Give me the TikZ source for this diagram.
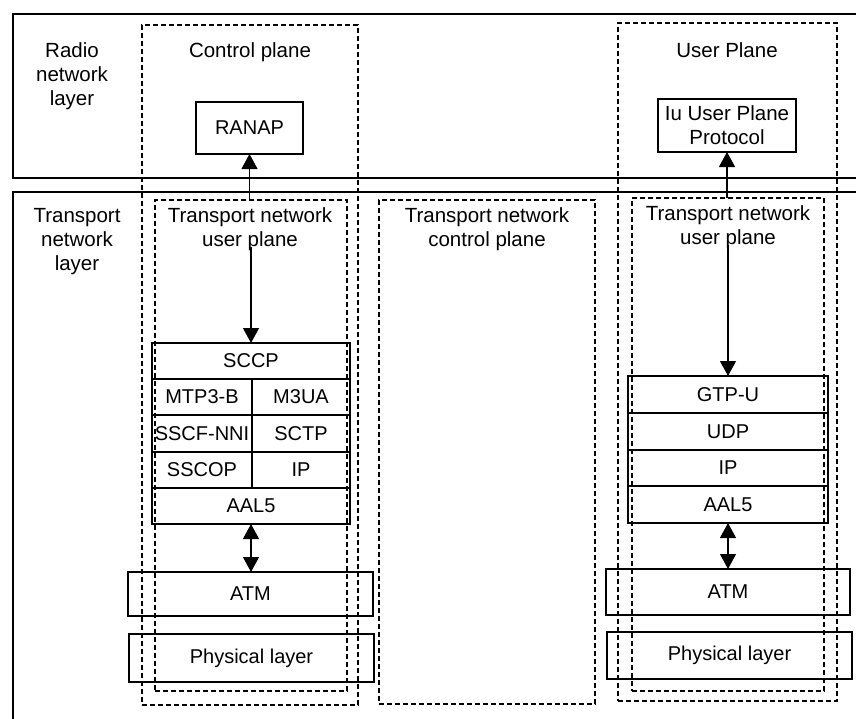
\documentclass[tikz,border=0pt]{standalone}
\usepackage{fontspec}
\setmainfont{Liberation Sans}
\usetikzlibrary{arrows.meta}

\begin{document}
\begin{tikzpicture}[x=1pt,y=-1pt,
  txt/.style={font=\fontsize{20.5}{24}\selectfont, align=center, inner sep=0pt},
  cell/.style={draw, line width=1.4pt, anchor=north west, inner sep=0pt, outer sep=0pt,
               font=\fontsize{20}{24}\selectfont, align=center},
  plane/.style={draw, line width=1.2pt, dash pattern=on 5pt off 3pt, anchor=north west,
                inner sep=0pt, outer sep=0pt},
  band/.style={line width=1.5pt},
  tip/.tip={Triangle[width=16pt,length=15pt]},
  ar/.style={line width=1.1pt, -tip},
  dar/.style={line width=1.1pt, tip-tip},
]
\useasboundingbox (0,0) rectangle (856,718);

% layer bands
\draw[band] (858,14) -- (13,14) -- (13,178) -- (858,178);
\draw[band] (858,192) -- (13,192) -- (13,720);

% layer names
\node[txt] (rnl) at (72,76) {Radio\\network\\layer};
\node[txt] (tnl) at (77,242) {Transport\\network\\layer};

% planes (dashed frames)
\node[plane, minimum width=216pt, minimum height=680pt] (cp) at (142,25) {};
\node[plane, minimum width=192pt, minimum height=491pt] (tnu1) at (155,200) {};
\node[plane, minimum width=216pt, minimum height=504pt] (tnc) at (379,200) {};
\node[plane, minimum width=219pt, minimum height=678pt] (up) at (618,23) {};
\node[plane, minimum width=192pt, minimum height=493pt] (tnu2) at (632,198) {};

% plane titles
\node[txt] (cpl) at (250,52) {Control plane};
\node[txt] (upl) at (727,50) {User Plane};
\node[txt] (tnu1l) at (250,229) {Transport network\\user plane};
\node[txt] (tncl) at (487,229) {Transport network\\control plane};
\node[txt] (tnu2l) at (728,227) {Transport network\\user plane};

% radio network layer protocols
\node[cell, minimum width=107pt, minimum height=52pt] (ranap) at (196,102) {RANAP};
\node[cell, minimum width=138pt, minimum height=53pt, font=\fontsize{20.5}{24}\selectfont] (iup) at (658,99) {Iu User Plane\\Protocol};

% control plane stack
\node[cell, minimum width=198pt, minimum height=36pt] (sccp) at (152,343) {SCCP};
\node[cell, minimum width=100pt, minimum height=36pt] (mtp) at (152,379) {MTP3-B};
\node[cell, minimum width=98pt, minimum height=36pt] (m3ua) at (252,379) {M3UA};
\node[cell, minimum width=100pt, minimum height=37pt] (sscf) at (152,415) {SSCF-NNI};
\node[cell, minimum width=98pt, minimum height=37pt] (sctp) at (252,415) {SCTP};
\node[cell, minimum width=100pt, minimum height=36pt] (sscop) at (152,452) {SSCOP};
\node[cell, minimum width=98pt, minimum height=36pt] (ipc) at (252,452) {IP};
\node[cell, minimum width=198pt, minimum height=36pt] (aalc) at (152,488) {AAL5};
\node[cell, minimum width=245pt, minimum height=44pt] (atmc) at (128,572) {ATM};
\node[cell, minimum width=245pt, minimum height=48pt] (phyc) at (129,634) {Physical layer};

% user plane stack
\node[cell, minimum width=200pt, minimum height=37pt] (gtpu) at (628,376) {GTP-U};
\node[cell, minimum width=200pt, minimum height=37pt] (udp) at (628,413) {UDP};
\node[cell, minimum width=200pt, minimum height=36pt] (ipu) at (628,450) {IP};
\node[cell, minimum width=200pt, minimum height=37pt] (aalu) at (628,486) {AAL5};
\node[cell, minimum width=244pt, minimum height=46pt] (atmu) at (606,569) {ATM};
\node[cell, minimum width=245pt, minimum height=47pt] (phyu) at (607,632) {Physical layer};

% connectors
\draw[ar] (ranap.south |- tnu1.north) -- (ranap.south);
\draw[ar] ([yshift=4pt]sccp.north |- tnu1l.south) -- (sccp.north);
\draw[dar] (aalc.south) -- (atmc.north -| aalc.south);

\draw[ar] (iup.south |- tnu2.north) -- (iup.south);
\draw[ar] ([yshift=4pt]gtpu.north |- tnu2l.south) -- (gtpu.north);
\draw[dar] (aalu.south) -- (atmu.north -| aalu.south);
\end{tikzpicture}
\end{document}
